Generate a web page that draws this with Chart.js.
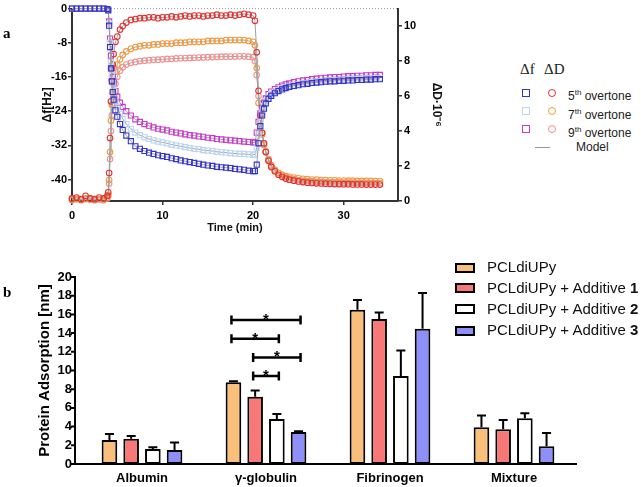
<!DOCTYPE html>
<html><head><meta charset="utf-8">
<script src="https://cdn.jsdelivr.net/npm/chart.js@4.4.0/dist/chart.umd.min.js"></script>
<style>
html,body{margin:0;padding:0;background:#fff;width:641px;height:487px;overflow:hidden;font-family:"Liberation Sans",Arial,sans-serif;}
#wa{position:absolute;left:0;top:0;width:470px;height:240px;}
#wb{position:absolute;left:0;top:240px;width:600px;height:247px;}
.plab{position:absolute;font-family:"Liberation Serif","Times New Roman",serif;font-weight:bold;font-size:15px;line-height:15px;}
.lg{position:absolute;white-space:nowrap;}
.sq{position:absolute;width:6px;height:6px;border:1.3px solid;box-sizing:content-box;}
.ci{position:absolute;width:6px;height:6px;border:1.3px solid;border-radius:50%;}
.bx{position:absolute;width:20px;height:10px;border:2px solid #000;box-sizing:border-box;}
.bt{position:absolute;font-size:15px;line-height:16px;color:#111;white-space:nowrap;}
.at{position:absolute;font-size:12px;line-height:14px;color:#222;white-space:nowrap;}
</style>
</head><body>
<div id="wa"><canvas id="ca" width="470" height="240"></canvas></div>
<div id="wb"><canvas id="cb" width="600" height="247"></canvas></div>
<div class="plab" style="left:3px;top:26px;">a</div>
<div class="plab" style="left:3px;top:285px;">b</div>
<div id="legA"></div>
<div id="legB"></div>
<script>
// ---------- Panel a data (QCM-D) ----------
const times = [0,0.5,1,1.5,2,2.5,3,3.5,3.9,4.0,4.1,4.2,4.3,4.4,4.5,4.6,4.8,5.0,5.3,5.6,6.0,6.5,7,7.5,8,8.5,9,9.5,10,10.5,11,11.5,12,12.5,13,13.5,14,14.5,15,15.5,16,16.5,17,17.5,18,18.5,19,19.5,20,20.2,20.4,20.6,20.8,21,21.2,21.4,21.7,22,22.4,22.8,23.2,23.6,24,24.5,25,25.5,26,26.5,27,27.5,28,28.5,29,29.5,30,30.5,31,31.5,32,32.5,33,33.5,34];
const df5 = [0,0,0,0,0,0,0,0,
 -0.1,-0.4,-4,-9,-14,-17,-19.5,-21.3,
 -23.8,-25.3,-27,-28.4,-29.7,-31,
 -32.2,-32.8,-33.3,-33.7,-34.0,-34.3,-34.5,-34.7,-35.0,-35.2,-35.5,-35.7,-35.9,-36.1,-36.3,-36.5,-36.7,-36.8,-37.0,-37.1,-37.2,-37.3,-37.5,-37.6,-37.7,-37.9,-38.0,
 -38.0,-36.5,-31.5,-27.5,-25,-23.4,-22.2,-21.1,-20.4,-19.8,-19.3,-18.9,-18.6,
 -18.3,-18.1,-17.9,-17.7,-17.6,-17.4,-17.3,-17.2,-17.1,-17.0,-17.0,-16.9,-16.9,-16.8,-16.8,-16.7,-16.7,-16.6,-16.6,-16.5,-16.5];
const df7 = [0,0,0,0,0,0,0,0,
 -0.1,-0.3,-3.5,-8,-12.5,-15.5,-17.5,-19.2,
 -21.5,-23,-24.6,-25.8,-27,-28.1,
 -29.0,-29.6,-30.1,-30.5,-30.8,-31.1,-31.3,-31.5,-31.8,-32.0,-32.2,-32.4,-32.6,-32.8,-32.9,-33.1,-33.2,-33.3,-33.5,-33.6,-33.7,-33.8,-33.9,-34.0,-34.0,-34.1,-34.2,
 -34.1,-32.5,-29.5,-26.5,-24.3,-22.8,-21.6,-20.6,-20.0,-19.4,-19.0,-18.6,-18.3,
 -18.1,-17.9,-17.7,-17.5,-17.4,-17.2,-17.1,-17.0,-16.9,-16.8,-16.8,-16.7,-16.6,-16.6,-16.5,-16.5,-16.4,-16.4,-16.3,-16.3,-16.3];
const df9 = [0,0,0,0,0,0,0,0,
 -0.1,-0.3,-3,-7,-11,-14,-16,-17.3,
 -19.3,-20.6,-22,-23,-24,-25,
 -25.9,-26.5,-27.0,-27.4,-27.8,-28.1,-28.3,-28.5,-28.8,-29.0,-29.2,-29.4,-29.6,-29.7,-29.9,-30.0,-30.2,-30.3,-30.5,-30.6,-30.7,-30.8,-30.9,-31.0,-31.1,-31.2,-31.3,
 -31.3,-29,-26.5,-24.5,-23.2,-22,-21,-20.0,-19.4,-18.8,-18.4,-18.0,-17.7,
 -17.5,-17.2,-17.0,-16.8,-16.7,-16.5,-16.4,-16.3,-16.2,-16.1,-16.0,-16.0,-15.9,-15.8,-15.8,-15.7,-15.7,-15.6,-15.6,-15.5,-15.5];
const dD5 = [0.15,0.2,0.1,0.3,0.15,0.1,0.2,0.15,
 0.3,0.5,1.6,3.6,5.7,6.9,7.8,8.4,
 9.1,9.4,9.8,10.0,10.2,10.35,
 10.4,10.45,10.45,10.5,10.5,10.45,10.5,10.5,10.55,10.5,10.55,10.6,10.55,10.6,10.6,10.55,10.6,10.6,10.65,10.6,10.6,10.65,10.6,10.65,10.7,10.65,10.6,
 10.3,8.5,6.3,4.9,3.9,3.3,2.8,2.3,1.95,1.7,1.5,1.38,1.28,
 1.22,1.16,1.12,1.08,1.05,1.03,1.01,1.0,0.99,0.98,0.97,0.97,0.96,0.96,0.95,0.95,0.95,0.94,0.94,0.94,0.94];
const dD7 = [0.1,0.12,0.08,0.15,0.1,0.12,0.1,0.1,
 0.2,0.35,1.2,2.8,4.6,5.5,6.2,6.8,
 7.4,7.8,8.1,8.35,8.55,8.7,
 8.8,8.85,8.9,8.9,8.95,8.95,9.0,9.0,9.0,9.05,9.05,9.05,9.1,9.1,9.1,9.1,9.15,9.15,9.15,9.15,9.2,9.2,9.2,9.2,9.2,9.15,9.1,
 8.9,7.6,5.6,4.6,3.8,3.2,2.8,2.35,2.0,1.75,1.6,1.5,1.42,
 1.38,1.34,1.3,1.27,1.25,1.23,1.22,1.2,1.2,1.18,1.18,1.17,1.17,1.16,1.16,1.15,1.15,1.15,1.15,1.14,1.14];
const dD9 = [0.05,0.1,0.05,0.1,0.08,0.05,0.1,0.05,
 0.15,0.3,1.0,2.4,4.0,4.9,5.5,6.0,
 6.7,7.1,7.45,7.65,7.8,7.9,
 7.95,8.0,8.02,8.05,8.07,8.08,8.1,8.12,8.13,8.15,8.16,8.17,8.18,8.19,8.2,8.21,8.22,8.23,8.24,8.25,8.25,8.26,8.26,8.27,8.27,8.25,8.22,
 8.0,7.2,6.0,4.8,3.9,3.3,2.85,2.4,2.05,1.8,1.6,1.48,1.38,
 1.3,1.25,1.2,1.17,1.14,1.12,1.1,1.09,1.08,1.07,1.06,1.06,1.05,1.05,1.05,1.04,1.04,1.04,1.03,1.03,1.03];
const xTicksA = [0,10,20,30];
const dfTicks = [0,-8,-16,-24,-32,-40];
const dDTicks = [0,2,4,6,8,10];
const overtones = ['5','7','9'];

// ---------- Panel b data (protein adsorption) ----------
const proteins = ['Albumin','\u03B3-globulin','Fibrinogen','Mixture'];
const seriesNames = ['PCLdiUPy','PCLdiUPy + Additive ','PCLdiUPy + Additive ','PCLdiUPy + Additive '];
const seriesBold = ['','1','2','3'];
const adsBase = [2.57, 8.75, 16.5, 3.93];
const adsAdd1 = [2.7, 7.2, 15.5, 3.71];
const adsAdd2 = [1.6, 4.8, 9.4, 4.89];
const adsAdd3 = [1.5, 3.43, 14.46, 1.89];
const errBase = [0.65, 0.11, 1.05, 1.27];
const errAdd1 = [0.3, 0.66, 0.7, 1.0];
const errAdd2 = [0.2, 0.56, 2.75, 0.54];
const errAdd3 = [0.8, 0.07, 3.84, 1.43];
const sigFrom = [0, 0, 1, 1];
const sigTo = [3, 2, 3, 2];
const sigLevel = [15.4, 13.4, 11.4, 9.4];
const sigCategory = 1;

const F = '"Liberation Sans", Arial, sans-serif';
const colF = ['#3434c8', '#bcd6f2', '#c83cc8'];
const colD = ['#e43030', '#f29a3c', '#f09090'];
const barFill = ['#fbbf7c', '#f87878', '#ffffff', '#8f8ff9'];

function pts(vals){ return times.map((t,i)=>({x:t, y:vals[i]})); }
function setTicks(arr){ return s => { s.ticks = arr.map(v=>({value:v})); }; }

const baseDS = { showLine:true, borderColor:'#a0a0a0', borderWidth:1, tension:0, clip:false, pointBorderWidth:1.1, pointBackgroundColor:'rgba(0,0,0,0)' };
const dsA = [];
[df5, df7, df9].forEach((v,i)=>dsA.push(Object.assign({}, baseDS, {data:pts(v), yAxisID:'y', pointStyle:'rect', pointRadius:3.6, pointBorderColor:colF[i]})));
[dD5, dD7, dD9].forEach((v,i)=>dsA.push(Object.assign({}, baseDS, {data:pts(v), yAxisID:'y2', pointStyle:'circle', pointRadius:2.8, pointBorderColor:colD[i]})));
dsA.push({data:[{x:0,y:0},{x:36,y:0}], yAxisID:'y', showLine:true, borderColor:'#9a9a9a', borderWidth:1, borderDash:[1,2], pointRadius:0, clip:false});

const tickFontA = {family:F, size:11, weight:'bold'};
const gridA = {display:true, drawOnChartArea:false, drawTicks:true, tickLength:4, color:'#333', lineWidth:1.5};
const borderA = {display:true, color:'#333', width:2};

new Chart(document.getElementById('ca'), {
  type:'scatter',
  data:{datasets:dsA},
  options:{
    animation:false, responsive:false, devicePixelRatio:1,
    layout:{padding:{top:4,left:0,right:0,bottom:0}},
    plugins:{legend:{display:false}, tooltip:{enabled:false}},
    scales:{
      x:{type:'linear', min:0, max:36, afterBuildTicks:setTicks(xTicksA), afterFit:s=>{s.height=39;},
         grid:gridA, border:borderA,
         ticks:{padding:4, color:'#000', font:tickFontA, maxRotation:0},
         title:{display:true, text:'Time (min)', color:'#111', font:{family:F,size:11,weight:'bold'}, padding:{top:0,bottom:5}}},
      y:{type:'linear', position:'left', min:-45, max:0, afterBuildTicks:setTicks(dfTicks), afterFit:s=>{s.width=72;},
         grid:gridA, border:borderA,
         ticks:{padding:1, color:'#000', font:tickFontA},
         title:{display:true, text:'\u0394f[Hz]', color:'#111', font:{family:F,size:12,weight:'bold'}, padding:{top:40,bottom:0}}},
      y2:{type:'linear', position:'right', min:0, max:11, afterBuildTicks:setTicks(dDTicks), afterFit:s=>{s.width=72;},
         grid:gridA, border:borderA,
         ticks:{padding:2, color:'#000', font:tickFontA},
         title:{display:true, text:'\u0394D\u00B710\u207B\u2076', color:'#111', font:{family:F,size:12,weight:'bold'}, padding:{top:26,bottom:0}}}
    }
  }
});

// ---------- Panel b chart ----------
const barVals = [adsBase, adsAdd1, adsAdd2, adsAdd3];
const barErrs = [errBase, errAdd1, errAdd2, errAdd3];
const dsB = barVals.map((v,i)=>({label:seriesNames[i]+seriesBold[i], data:v, backgroundColor:barFill[i], borderColor:'#000', borderWidth:2, borderSkipped:false, categoryPercentage:0.7, barPercentage:0.72}));

const barExtras = {
  id:'barExtras',
  afterDatasetsDraw(chart){
    const ctx = chart.ctx, ys = chart.scales.y, ca = chart.chartArea;
    ctx.save();
    ctx.strokeStyle = '#000'; ctx.lineCap = 'butt';
    // error bars
    ctx.lineWidth = 2;
    chart.data.datasets.forEach((ds,i)=>{
      chart.getDatasetMeta(i).data.forEach((bar,j)=>{
        const top = ys.getPixelForValue(ds.data[j] + barErrs[i][j]);
        ctx.beginPath();
        ctx.moveTo(bar.x, bar.y); ctx.lineTo(bar.x, top);
        ctx.moveTo(bar.x-4.5, top); ctx.lineTo(bar.x+4.5, top);
        ctx.stroke();
      });
    });
    // significance brackets
    ctx.lineWidth = 2.5;
    ctx.fillStyle = '#000';
    ctx.font = 'bold 15px ' + F;
    ctx.textAlign = 'center'; ctx.textBaseline = 'alphabetic';
    sigLevel.forEach((lv,k)=>{
      const x1 = chart.getDatasetMeta(sigFrom[k]).data[sigCategory].x - 2;
      const x2 = chart.getDatasetMeta(sigTo[k]).data[sigCategory].x + 2;
      const y = ys.getPixelForValue(lv);
      ctx.beginPath();
      ctx.moveTo(x1, y); ctx.lineTo(x2, y);
      ctx.moveTo(x1, y-4.5); ctx.lineTo(x1, y+4.5);
      ctx.moveTo(x2, y-4.5); ctx.lineTo(x2, y+4.5);
      ctx.stroke();
      ctx.fillText('*', (x1+x2)/2, y + 4);
    });
    // axes (y axis offset from the first category like the original)
    const ax = ca.left - 5, y0 = ys.getPixelForValue(0), yTop = ys.getPixelForValue(20);
    ctx.lineWidth = 2;
    ctx.beginPath();
    ctx.moveTo(ax, yTop - 1); ctx.lineTo(ax, y0);
    ctx.moveTo(ax - 1, y0); ctx.lineTo(ca.right + 1, y0);
    ys.ticks.forEach(t=>{ const py = ys.getPixelForValue(t.value); ctx.moveTo(ax - 4, py); ctx.lineTo(ax, py); });
    ctx.stroke();
    ctx.restore();
  }
};

new Chart(document.getElementById('cb'), {
  type:'bar',
  data:{labels:proteins, datasets:dsB},
  options:{
    animation:false, responsive:false, devicePixelRatio:1,
    layout:{padding:{top:37,right:24,left:0,bottom:0}},
    plugins:{legend:{display:false}, tooltip:{enabled:false}},
    scales:{
      x:{type:'category', offset:true, grid:{display:false, drawTicks:false}, border:{display:false},
         afterFit:s=>{s.height=23;},
         ticks:{padding:7, color:'#000', font:{family:F,size:13,weight:'bold'}, maxRotation:0}},
      y:{min:0, max:20, grid:{display:false, drawTicks:false}, border:{display:false},
         afterFit:s=>{s.width=80;},
         ticks:{stepSize:2, padding:8, color:'#000', font:{family:F,size:13,weight:'bold'}},
         title:{display:true, text:'Protein Adsorption [nm]', color:'#000', font:{family:F,size:15,weight:'bold'}, padding:{top:36,bottom:0}}}
    }
  },
  plugins:[barExtras]
});

// ---------- Legends ----------
(function(){
  const la = document.getElementById('legA');
  let h = '';
  h += '<div class="lg" style="left:520px;top:61px;font-family:\'Liberation Serif\',serif;font-size:15px;color:#222;">\u0394f</div>';
  h += '<div class="lg" style="left:544px;top:61px;font-family:\'Liberation Serif\',serif;font-size:15px;color:#222;">\u0394D</div>';
  const rows = [93, 111.5, 129.5];
  overtones.forEach((o,i)=>{
    const y = rows[i];
    h += '<div class="sq" style="left:'+(526.7-4.3)+'px;top:'+(y-4.3)+'px;border-color:'+colF[i]+';"></div>';
    h += '<div class="ci" style="left:'+(552.3-4.3)+'px;top:'+(y-4.3)+'px;border-color:'+colD[i]+';"></div>';
    h += '<div class="at" style="left:568px;top:'+(y-7)+'px;">'+o+'<sup style="font-size:8px;">th</sup> overtone</div>';
  });
  h += '<div class="lg" style="left:535px;top:147px;width:15px;height:1px;background:#9a9a9a;"></div>';
  h += '<div class="at" style="left:576px;top:140px;">Model</div>';
  la.innerHTML = h;

  const lb = document.getElementById('legB');
  const brows = [267.7, 288.3, 309.3, 330.7];
  let g = '';
  brows.forEach((y,i)=>{
    g += '<div class="bx" style="left:455px;top:'+(y-5)+'px;background:'+barFill[i]+';"></div>';
    g += '<div class="bt" style="left:487px;top:'+(y-8.5)+'px;">'+seriesNames[i]+(seriesBold[i]?'<b>'+seriesBold[i]+'</b>':'')+'</div>';
  });
  lb.innerHTML = g;
})();
</script>
</body></html>
